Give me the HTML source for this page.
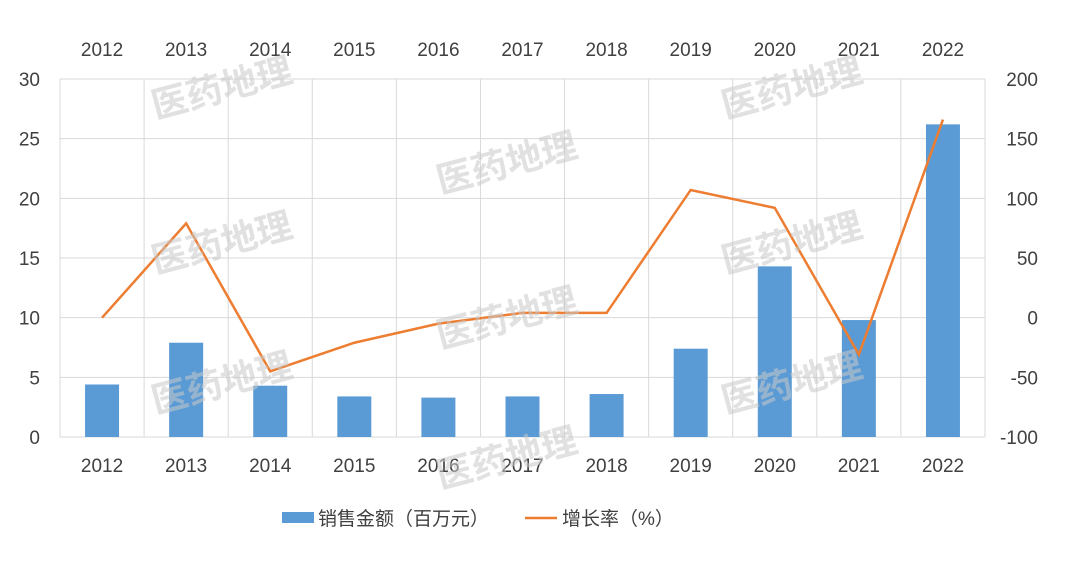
<!DOCTYPE html>
<html><head><meta charset="utf-8"><style>
body{margin:0;background:#fff;}
svg text{font-family:"Liberation Sans","Noto Sans CJK SC",sans-serif;}
</style></head><body>
<svg id="chart" width="1080" height="557" xmlns="http://www.w3.org/2000/svg">
<g id="grid"></g>
<g id="bars"></g>
<g id="line"></g>
<g id="labels"></g>
<g id="wm" opacity="0.55"></g>
<g>
<rect x="282" y="512" width="32" height="11" fill="#5b9bd5"/>
<text x="318" y="525" font-size="19" fill="#404040">销售金额（百万元）</text>
<line x="525" y1="518" x2="525" y2="518"/>
<line x1="525" y1="518" x2="557" y2="518" stroke="#ed7d31" stroke-width="2.5"/>
<text x="562" y="525" font-size="19" fill="#404040">增长率（%）</text>
</g>
</svg>
<script>
const categories=["2012","2013","2014","2015","2016","2017","2018","2019","2020","2021","2022"];
const sales=[4.4,7.9,4.3,3.4,3.3,3.4,3.6,7.4,14.3,9.8,26.2];
const growth=[0,79,-45,-21,-5,4,4,107,92,-31,166];
const leftTicks=[0,5,10,15,20,25,30];
const rightTicks=[-100,-50,0,50,100,150,200];
const NS="http://www.w3.org/2000/svg";
const L=60,R=985,T=79,B=437;
const bw=(R-L)/categories.length;
const xc=i=>L+bw*(i+0.5);
const yL=v=>B-(v/30)*(B-T);
const yR=v=>B-((v+100)/300)*(B-T);
function mk(tag,attrs,parent,txt){const e=document.createElementNS(NS,tag);for(const k in attrs)e.setAttribute(k,attrs[k]);if(txt!==undefined)e.textContent=txt;document.getElementById(parent).appendChild(e);return e;}
leftTicks.forEach(v=>{const y=yL(v);
 const g=mk('line',{x1:L,x2:R,y1:y,y2:y,stroke:'#d9d9d9','stroke-width':1},'grid');
 
 
 const t=mk('text',{x:40,y:y+7,'text-anchor':'end','font-size':19,fill:'#404040'},'labels',String(v));
 
 });
rightTicks.forEach(v=>{const t=mk('text',{x:1038,y:yR(v)+7,'text-anchor':'end','font-size':19,fill:'#404040'},'labels',String(v));
 
 });
for(let i=0;i<=categories.length;i++){const x=L+bw*i;
 const g=mk('line',{x1:x,x2:x,y1:T,y2:B,stroke:'#d9d9d9','stroke-width':1},'grid');
 
 }
categories.forEach((c,i)=>{
 const b=mk('rect',{x:xc(i)-17,y:yL(sales[i]),width:34,height:B-yL(sales[i]),fill:'#5b9bd5'},'bars');
 
 
 const t1=mk('text',{x:xc(i),y:472,'text-anchor':'middle','font-size':19,fill:'#404040'},'labels',c);
 
 
 const t2=mk('text',{x:xc(i),y:56,'text-anchor':'middle','font-size':19,fill:'#404040'},'labels',c);
 
 
});
const p=mk('polyline',{points:growth.map((v,i)=>xc(i)+','+yR(v)).join(' '),fill:'none',stroke:'#ed7d31','stroke-width':2.5},'line');


[[225,100],[510,175],[795,100],[225,255],[510,330],[795,255],[225,395],[510,470],[795,395]].forEach(([x,y])=>{
 const w=mk('text',{x:x,y:y,'text-anchor':'middle','font-size':36,'font-weight':'bold',fill:'#c8c8c8',transform:`rotate(-15 ${x} ${y})`},'wm','医药地理');
 
 
});
</script>
</body></html>
